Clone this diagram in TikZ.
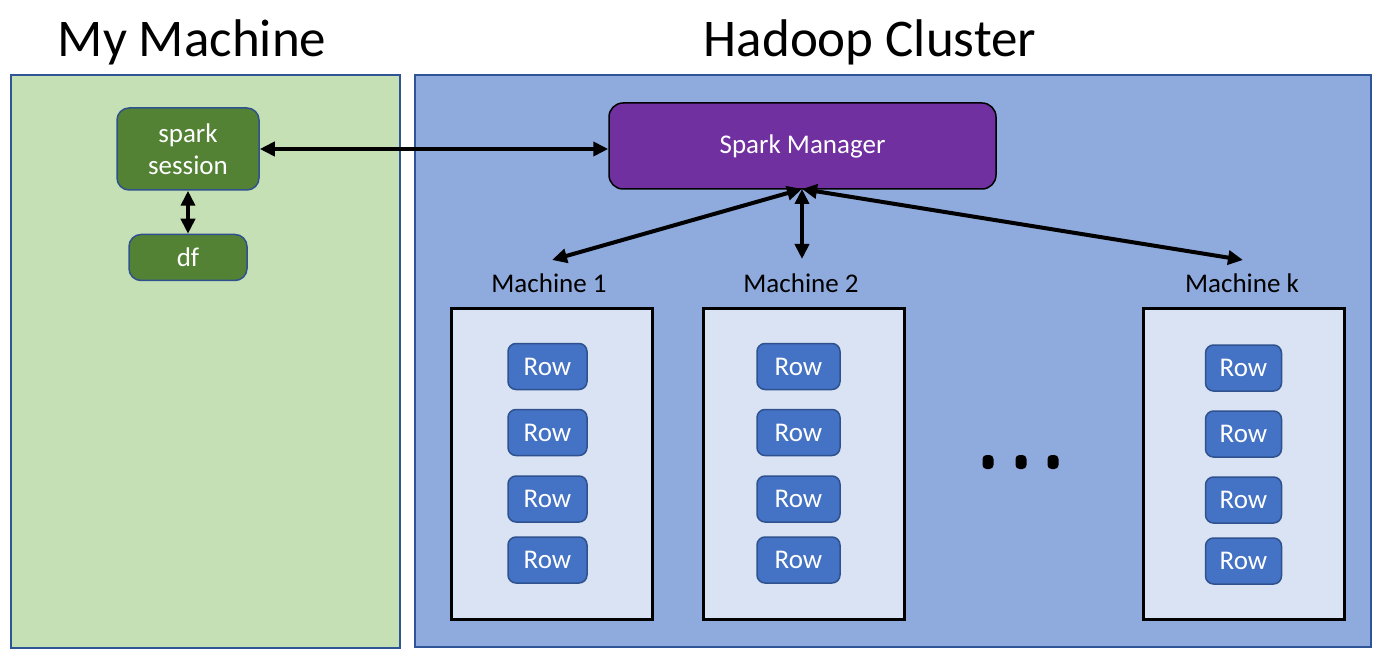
\documentclass[tikz,border=0pt]{standalone}
\usepackage{fontspec}
\setmainfont{Carlito}
\usetikzlibrary{arrows.meta}
\definecolor{greenbg}{HTML}{C5E0B4}
\definecolor{bluebg}{HTML}{8FAADC}
\definecolor{panelborder}{HTML}{2F5597}
\definecolor{darkgreen}{HTML}{548235}
\definecolor{rowblue}{HTML}{4472C4}
\definecolor{rowborder}{HTML}{2F528F}
\definecolor{purplebox}{HTML}{7030A0}
\definecolor{machinebg}{HTML}{DAE3F3}
\tikzset{
  greenbox/.style={draw=rowborder, fill=darkgreen, line width=1.5pt, rounded corners=12pt, text=white, align=center, font=\fontsize{27}{32}\selectfont, inner sep=0pt},
  mgrbox/.style={draw=black, fill=purplebox, line width=1.5pt, rounded corners=14pt, text=white, font=\fontsize{27}{30}\selectfont, minimum width=387pt, minimum height=86pt, inner sep=0pt},
  machbox/.style={draw=black, fill=machinebg, line width=3pt, minimum width=201pt, minimum height=310pt, inner sep=0pt},
  rowbox/.style={draw=rowborder, fill=rowblue, line width=1.5pt, rounded corners=8pt, text=white, font=\fontsize{27}{30}\selectfont, minimum width=79pt, minimum height=46pt, inner sep=0pt},
  mlabel/.style={font=\fontsize{27}{30}\selectfont, text=black},
  title/.style={font=\fontsize{53}{60}\selectfont, anchor=base},
  link/.style={line width=4pt, {Triangle[length=15pt,width=14pt]}-{Triangle[length=15pt,width=14pt]}},
  dotmark/.style={fill=black, rounded corners=4pt}
}
\begin{document}
\begin{tikzpicture}[x=1pt,y=-1pt]
\useasboundingbox (0,0) rectangle (1392,668);
% titles
\node[title] (t1) at (192,57) {My Machine};
\node[title] (t2) at (870,57) {Hadoop Cluster};
% panels
\node[draw=panelborder, fill=greenbg, line width=1.5pt, minimum width=389pt, minimum height=573pt, inner sep=0pt] (gp) at (205.5,361.5) {};
\node[draw=panelborder, fill=bluebg, line width=1.5pt, minimum width=956pt, minimum height=572pt, inner sep=0pt] (bp) at (893,361) {};
% my machine
\node[greenbox, minimum width=142pt, minimum height=82pt] (ss) at (188,149) {spark\\session};
\node[greenbox, minimum width=118pt, minimum height=46pt] (df) at (188,257.5) {df};
% manager
\node[mgrbox] (mgr) at (802.5,146) {Spark Manager};
% machines
\node[machbox] (m1) at (551.5,464) {};
\node[machbox] (m2) at (803.5,464) {};
\node[machbox] (mk) at (1243.5,464) {};
\node[mlabel] (l1) at (549,283) {Machine 1};
\node[mlabel] (l2) at (801,283) {Machine 2};
\node[mlabel] (lk) at (1242,283) {Machine k};
% rows
\foreach \i/\y in {1/366.5,2/432.5,3/499,4/560}{
  \node[rowbox] (r1\i) at (547.5,\y) {Row};
  \node[rowbox, minimum width=83pt] (r2\i) at (798.5,\y) {Row};
}
\foreach \i/\y in {1/368,2/434,3/500,4/561}{
  \node[rowbox, minimum width=76pt] (rk\i) at (1243.5,\y) {Row};
}
% dots
\foreach \x in {988,1021,1053}{
  \fill[dotmark] (\x-5.5,455) rectangle (\x+5.5,469);
}
% connectors
\coordinate (J) at (802,189);
\coordinate (a1) at (552,260);
\coordinate (a2) at (802,259);
\coordinate (ak) at (1243,260);
\draw[link] (ss.east) -- (ss.east -| mgr.west);
\draw[link] (ss.south) -- (df.north);
\draw[link] (J) -- (a1);
\draw[link] (J) -- (a2);
\draw[link] (J) -- (ak);
\end{tikzpicture}
\end{document}
